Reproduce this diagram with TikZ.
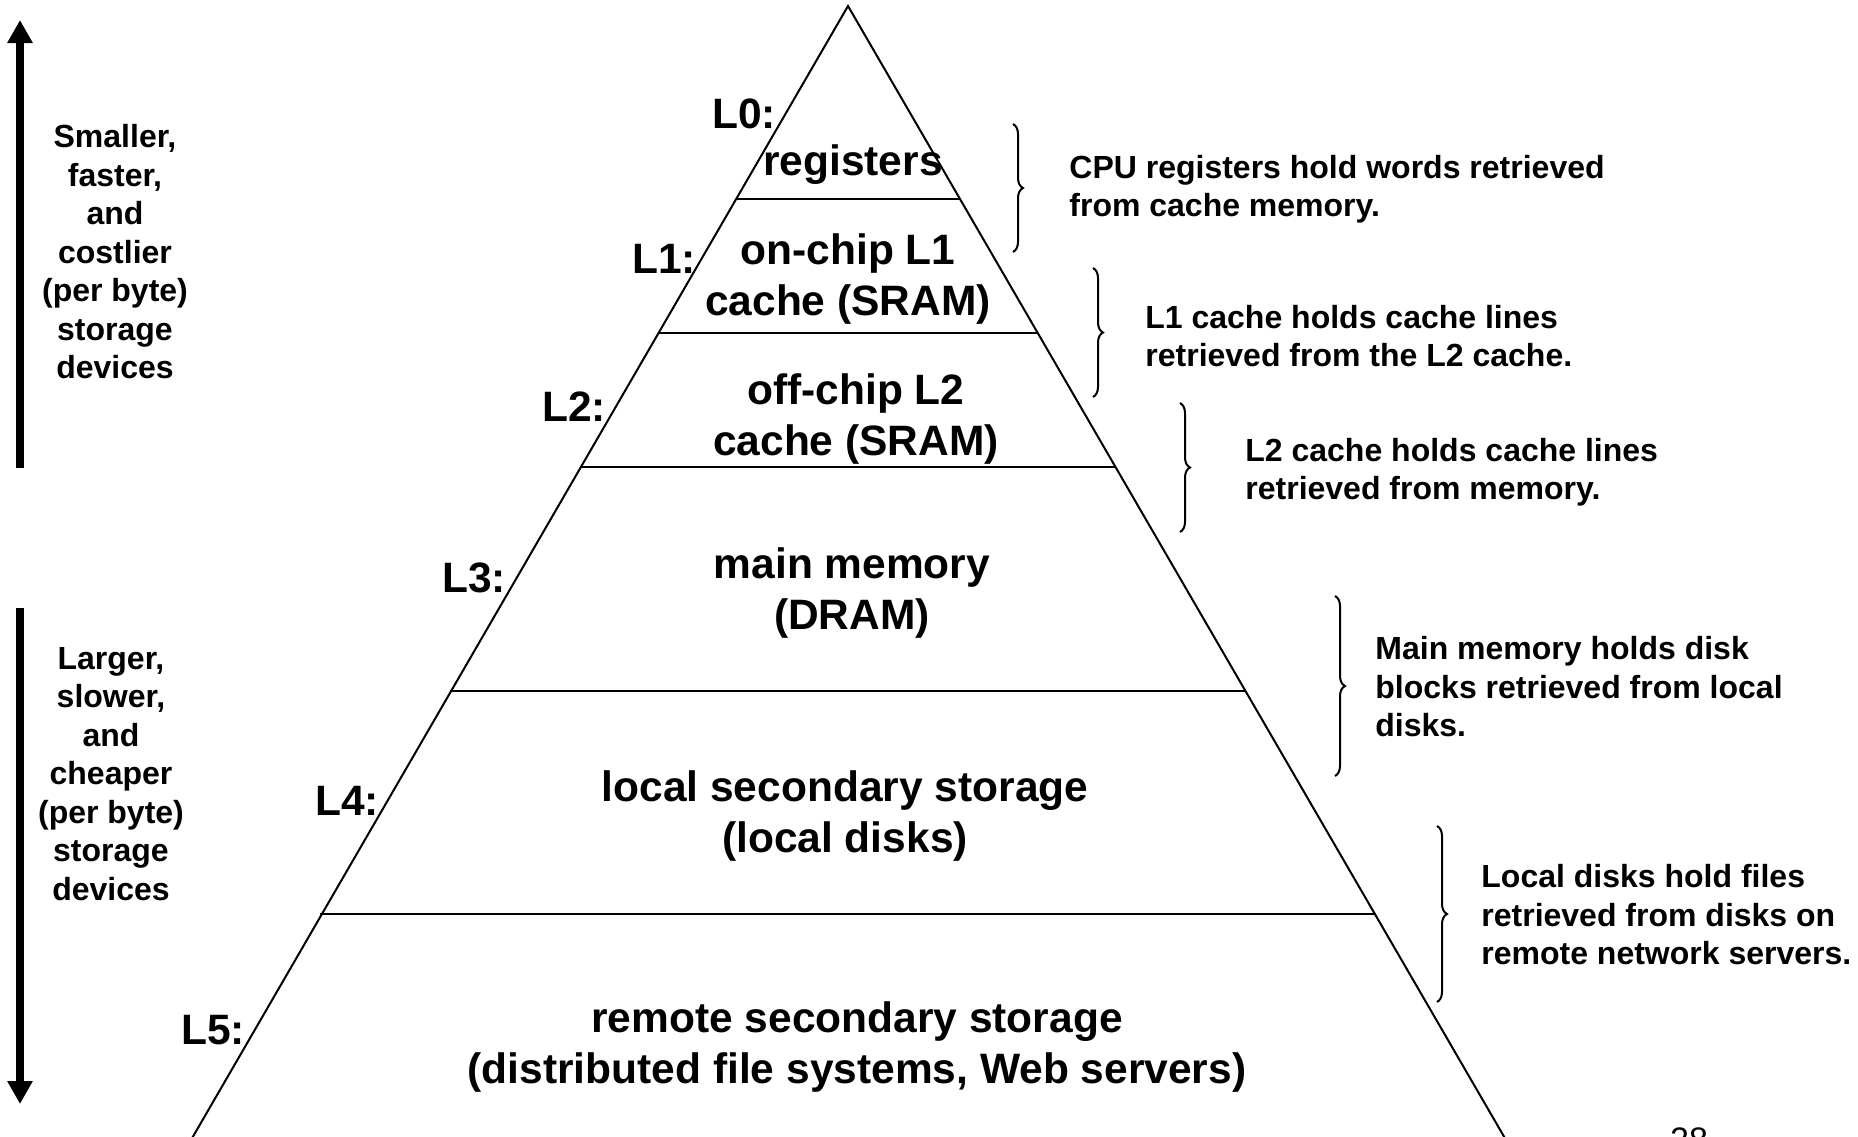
\documentclass[tikz,border=0pt]{standalone}
\usepackage{fontspec}
\setmainfont{Liberation Sans}
\usetikzlibrary{arrows.meta,decorations.pathreplacing}
\tikzset{
  big/.style={font=\fontsize{21.25}{25.5}\selectfont\bfseries, align=center, inner sep=0pt},
  small/.style={font=\fontsize{16}{19.25}\selectfont\bfseries, inner sep=0pt},
  note/.style={small, align=left, anchor=west},
  side/.style={small, align=center},
  edge/.style={line width=1pt},
  level/.style={line width=1.2pt},
  bigarrow/.style={line width=4pt, -{Triangle[length=11.5pt,width=12pt]}},
  bracedeco/.style={line width=1pt, decorate, decoration={brace, amplitude=5pt}}
}
\begin{document}
\begin{tikzpicture}[x=0.5pt,y=-0.5pt]
\useasboundingbox (0,0) rectangle (1858,1136);
% pyramid
\coordinate (apex) at (848,6);
\coordinate (bl) at (191,1140);
\coordinate (br) at (1506,1140);
\draw[edge] (bl) -- (apex) -- (br);
\coordinate (a0) at (735.8,199); \coordinate (b0) at (960.2,199);
\coordinate (a1) at (657.9,333); \coordinate (b1) at (1038.1,333);
\coordinate (a2) at (580,467);   \coordinate (b2) at (1116,467);
\coordinate (a3) at (449.7,691); \coordinate (b3) at (1246.3,691);
\coordinate (a4) at (320.1,914); \coordinate (b4) at (1375.9,914);
\draw[level] (a0) -- (b0);
\draw[level] (a1) -- (b1);
\draw[level] (a2) -- (b2);
\draw[level] (a3) -- (b3);
\draw[level] (a4) -- (b4);
% level labels
\node[big] (l0) at (744,114) {L0:};
\node[big] (t0) at (853,165) {registers};
\node[big] (l1) at (664,259) {L1:};
\node[big] (t1) at (848,279) {on-chip L1\\cache (SRAM)};
\node[big] (l2) at (574,407) {L2:};
\node[big] (t2) at (856,419) {off-chip L2\\cache (SRAM)};
\node[big] (l3) at (474,578) {L3:};
\node[big] (t3) at (852,593) {main memory\\(DRAM)};
\node[big] (l4) at (347,801) {L4:};
\node[big] (t4) at (845,816) {local secondary storage\\(local disks)};
\node[big] (l5) at (213,1030) {L5:};
\node[big] (t5) at (857,1047) {remote secondary storage\\(distributed file systems, Web servers)};
% left arrows
\coordinate (up0) at (20,468); \coordinate (up1) at (20,20);
\coordinate (dn0) at (20,608); \coordinate (dn1) at (20,1104);
\draw[bigarrow] (up0) -- (up1);
\draw[bigarrow] (dn0) -- (dn1);
\node[side] (s1) at (115,252) {Smaller,\\faster,\\and\\costlier\\(per byte)\\storage\\devices};
\node[side] (s2) at (111,774) {Larger,\\slower,\\and\\cheaper\\(per byte)\\storage\\devices};
% braces
\coordinate (p0t) at (1013,124); \coordinate (p0b) at (1013,252);
\coordinate (p1t) at (1093,268); \coordinate (p1b) at (1093,397);
\coordinate (p2t) at (1180,403); \coordinate (p2b) at (1180,532);
\coordinate (p3t) at (1335,596); \coordinate (p3b) at (1335,776);
\coordinate (p4t) at (1437,826); \coordinate (p4b) at (1437,1002);
\draw[bracedeco] (p0t) -- (p0b);
\draw[bracedeco] (p1t) -- (p1b);
\draw[bracedeco] (p2t) -- (p2b);
\draw[bracedeco] (p3t) -- (p3b);
\draw[bracedeco] (p4t) -- (p4b);
\node[note] (n0) at (1069,189) {CPU registers hold words retrieved\\from cache memory.};
\node[note] (n1) at (1145,336) {L1 cache holds cache lines\\retrieved from the L2 cache.};
\node[note] (n2) at (1245,472) {L2 cache holds cache lines\\retrieved from memory.};
\node[note] (n3) at (1375,687) {Main memory holds disk\\blocks retrieved from local\\disks.};
\node[note] (n4) at (1481,915) {Local disks hold files\\retrieved from disks on\\remote network servers.};
% page number (cut off at the lower edge, as in the reference)
\node[font=\fontsize{17}{20}\selectfont, inner sep=0pt, anchor=base] (pg) at (1689,1151) {28};
\end{tikzpicture}
\end{document}
